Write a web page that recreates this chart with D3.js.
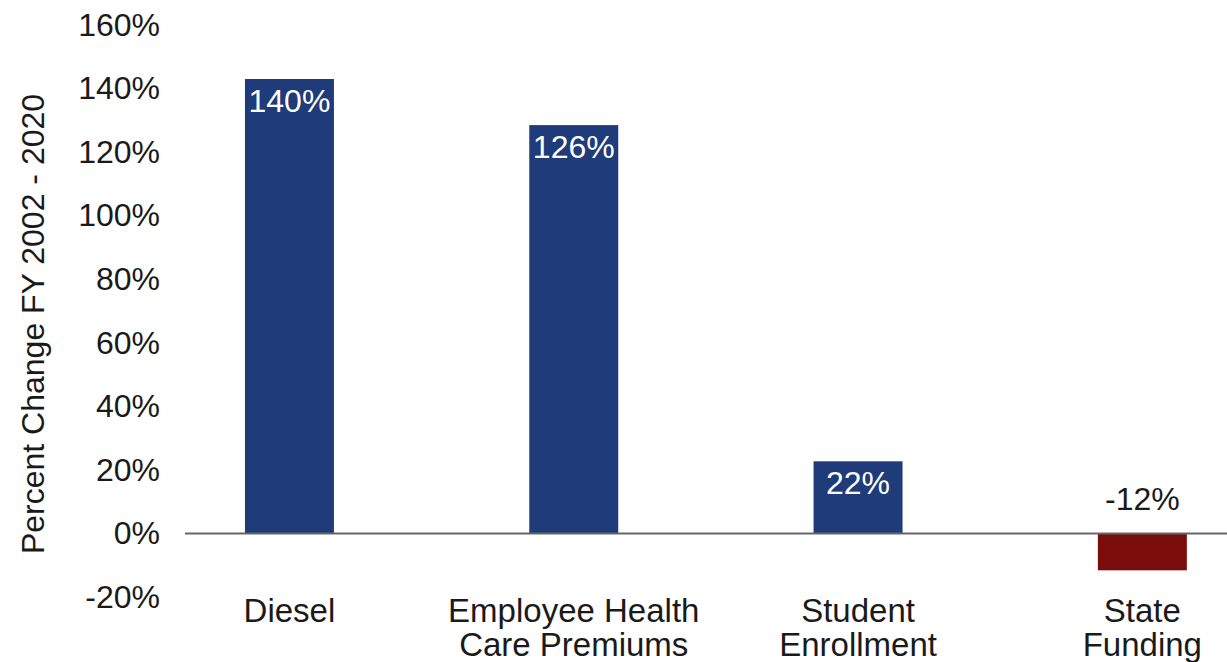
<!DOCTYPE html>
<html>
<head>
<meta charset="utf-8">
<script src="https://cdn.jsdelivr.net/npm/d3@7"></script>
<style>
  html, body { margin: 0; padding: 0; background: #fff; }
  svg { display: block; font-family: "Liberation Sans", Arial, sans-serif; }
</style>
</head>
<body>
<script>
// categories (each split into lines)
const categories = [['Diesel'], ['Employee Health', 'Care Premiums'], ['Student', 'Enrollment'], ['State', 'Funding']];
// bar heights as drawn in the picture
const values = [143, 128.5, 22.7, -11.6];
// data labels printed on the bars
const valueLabels = ['140%', '126%', '22%', '-12%'];
const yTicks = [-20, 0, 20, 40, 60, 80, 100, 120, 140, 160];

const width = 1227;
const height = 662;

const svg = d3.select('body')
  .append('svg')
  .attr('width', width)
  .attr('height', height);

// x scale over the categories
const xScale = d3.scaleBand()
  .domain(d3.range(categories.length))
  .range([147.3, 1284.5])
  .paddingInner(0.687)
  .paddingOuter(0.3435);

// y scale in percent
const yScale = d3.scaleLinear()
  .domain([-20, 160])
  .range([597, 25]);

// y axis labels
const yAxis = svg.append('g')
  .attr('transform', 'translate(160,0)')
  .call(d3.axisLeft(yScale).tickValues(yTicks).tickSize(0).tickPadding(0).tickFormat(d => d + '%'));
yAxis.select('.domain').remove();
yAxis.selectAll('text')
  .attr('font-family', '"Liberation Sans", Arial, sans-serif')
  .attr('font-size', 32)
  .attr('fill', '#1a1a1a');

// axis title
svg.append('text')
  .attr('transform', 'translate(44,324) rotate(-90)')
  .attr('text-anchor', 'middle')
  .attr('font-size', 32)
  .attr('fill', '#1a1a1a')
  .text('Percent Change FY 2002 - 2020');

// bars
svg.selectAll('.bar')
  .data(values)
  .enter()
  .append('rect')
  .attr('class', 'bar')
  .attr('x', (d, i) => xScale(i))
  .attr('width', xScale.bandwidth())
  .attr('y', d => yScale(Math.max(0, d)))
  .attr('height', d => Math.abs(yScale(d) - yScale(0)))
  .attr('fill', d => d >= 0 ? '#1f3b79' : '#7b0c0c');

// zero line
svg.append('line')
  .attr('x1', 185)
  .attr('x2', width)
  .attr('y1', yScale(0))
  .attr('y2', yScale(0))
  .attr('stroke', '#666')
  .attr('stroke-width', 2);

// value labels
svg.selectAll('.val')
  .data(values)
  .enter()
  .append('text')
  .attr('class', 'val')
  .attr('x', (d, i) => xScale(i) + xScale.bandwidth() / 2)
  .attr('y', d => d >= 0 ? yScale(d) + 33 : yScale(0) - 23)
  .attr('text-anchor', 'middle')
  .attr('font-size', 32)
  .attr('fill', d => d >= 0 ? '#fff' : '#1a1a1a')
  .text((d, i) => valueLabels[i]);

// category labels
const cat = svg.selectAll('.cat')
  .data(categories)
  .enter()
  .append('text')
  .attr('class', 'cat')
  .attr('text-anchor', 'middle')
  .attr('font-size', 33)
  .attr('fill', '#1a1a1a');

cat.selectAll('tspan')
  .data((d, i) => d.map(line => ({ line, i })))
  .enter()
  .append('tspan')
  .attr('x', d => xScale(d.i) + xScale.bandwidth() / 2)
  .attr('y', (d, j) => 622 + j * 34)
  .text(d => d.line);
</script>
</body>
</html>
